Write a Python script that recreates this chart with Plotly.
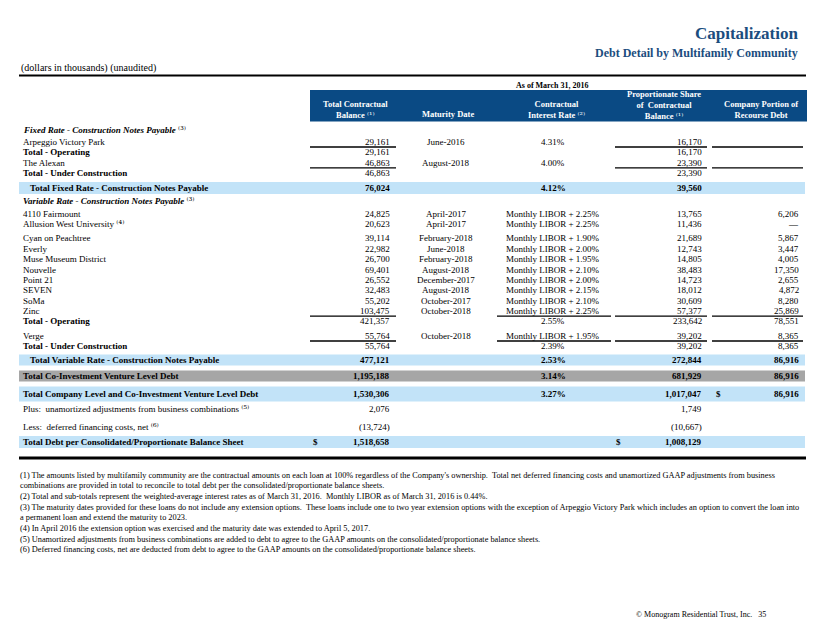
import plotly.graph_objects as go

# ---------------- data ----------------
def sup(n):
    digits = {"1": "\u00b9", "2": "\u00b2", "3": "\u00b3", "4": "\u2074", "5": "\u2075", "6": "\u2076"}
    return ("<span style=\"font-family:'DejaVu Serif';font-weight:normal;font-style:normal\">"
            "\u207d" + digits[n] + "\u207e</span>")


col_headers = [
    "Total Contractual<br>Balance " + sup("1"),
    "Maturity Date",
    "Contractual<br>Interest Rate " + sup("2"),
    "Proportionate Share<br>of  Contractual<br>Balance " + sup("1"),
    "Company Portion of<br>Recourse Debt",
]

fixed_names = ["Arpeggio Victory Park", "The Alexan"]
fixed_balance = [29161, 46863]
fixed_maturity = ["June-2016", "August-2018"]
fixed_rate = [4.31, 4.00]
fixed_share = [16170, 23390]
fixed_total = [76024, 4.12, 39560]

var_op_names = ["4110 Fairmount", "Allusion West University", "Cyan on Peachtree", "Everly",
                "Muse Museum District", "Nouvelle", "Point 21", "SEVEN", "SoMa", "Zinc"]
var_op_notes = ["", "4", "", "", "", "", "", "", "", ""]
var_op_balance = [24825, 20623, 39114, 22982, 26700, 69401, 26552, 32483, 55202, 103475]
var_op_maturity = ["April-2017", "April-2017", "February-2018", "June-2018", "February-2018",
                   "August-2018", "December-2017", "August-2018", "October-2017", "October-2018"]
var_op_spread = [2.25, 2.25, 1.90, 2.00, 1.95, 2.10, 2.00, 2.15, 2.10, 2.25]
var_op_share = [13765, 11436, 21689, 12743, 14805, 38483, 14723, 18012, 30609, 57377]
var_op_recourse = [6206, None, 5867, 3447, 4005, 17350, 2655, 4872, 8280, 25869]
var_op_total = [421357, 2.55, 233642, 78551]

var_uc_names = ["Verge"]
var_uc_balance = [55764]
var_uc_maturity = ["October-2018"]
var_uc_spread = [1.95]
var_uc_share = [39202]
var_uc_recourse = [8365]
var_uc_total = [55764, 2.39, 39202, 8365]

var_total = [477121, 2.53, 272844, 86916]
coinv_total = [1195188, 3.14, 681929, 86916]
company_total = [1530306, 3.27, 1017047, 86916]
adj_plus = [2076, 1749]
adj_less = [-13724, -10667]
debt_total = [1518658, 1008129]

footnotes = [
    "(1) The amounts listed by multifamily community are the contractual amounts on each loan at 100% regardless of the Company's ownership.  Total net deferred financing costs and unamortized GAAP adjustments from business",
    "combinations are provided in total to reconcile to total debt per the consolidated/proportionate balance sheets.",
    "(2) Total and sub-totals represent the weighted-average interest rates as of March 31, 2016.  Monthly LIBOR as of March 31, 2016 is 0.44%.",
    "(3) The maturity dates provided for these loans do not include any extension options.  These loans include one to two year extension options with the exception of Arpeggio Victory Park which includes an option to convert the loan into",
    "a permanent loan and extend the maturity to 2023.",
    "(4) In April 2016 the extension option was exercised and the maturity date was extended to April 5, 2017.",
    "(5) Unamortized adjustments from business combinations are added to debt to agree to the GAAP amounts on the consolidated/proportionate balance sheets.",
    "(6) Deferred financing costs, net are deducted from debt to agree to the GAAP amounts on the consolidated/proportionate balance sheets.",
]

# ---------------- layout constants ----------------
W, H = 822, 635
FONT = "Liberation Serif"
TITLE_BLUE = "#1B4D7E"
HEADER_BLUE = "#0A4A84"
BAND_BLUE = "#C2E3F8"
BAND_GRAY = "#A6A6A6"

X_LABEL, X_INDENT = 21, 28
X_BAL, X_MAT, X_RATE, X_SHARE, X_REC = 392, 446, 553, 704, 801
UL = {"bal": (310, 396), "rate": (497, 611), "share": (615, 707), "rec": (712, 803)}
BAND_X = (19, 805)
BODY = 9

annotations = []
shapes = []


def fmt(v):
    if v is None:
        return "\u2014"
    if v < 0:
        return f"({-v:,})"
    return f"{v:,}"


def txt(x, y, s, anchor="left", size=BODY, color="black", bold=False, italic=False):
    if bold:
        s = f"<b>{s}</b>"
    if italic:
        s = f"<i>{s}</i>"
    annotations.append(dict(x=x, y=y, xref="x", yref="y", text=s, showarrow=False,
                            xanchor=anchor, yanchor="middle",
                            font=dict(family=FONT, size=size, color=color)))


def line(x0, x1, y, width=1.3):
    shapes.append(dict(type="line", xref="x", yref="y", x0=x0, x1=x1, y0=y, y1=y,
                       line=dict(color="black", width=width)))


def band(y, color, half=6):
    shapes.append(dict(type="rect", xref="x", yref="y", x0=BAND_X[0], x1=BAND_X[1],
                       y0=y - half, y1=y + half, fillcolor=color, line=dict(width=0), layer="below"))


def row(y, label, bal=None, mat=None, rate=None, share=None, rec=None, bold=False,
        bold_values=None, label_x=X_LABEL, underline=(), rec_blank=False):
    bv = bold if bold_values is None else bold_values
    txt(label_x, y, label, bold=bold)
    if bal is not None:
        txt(X_BAL, y, fmt(bal), "right", bold=bv)
    if mat is not None:
        txt(X_MAT, y, mat, "center", bold=bv)
    if rate is not None:
        txt(X_RATE, y, rate, "center", bold=bv)
    if share is not None:
        txt(X_SHARE, y, fmt(share), "right", bold=bv)
    if rec is not None or rec_blank:
        txt(X_REC, y, fmt(rec), "right", bold=bv)
    for key in underline:
        line(UL[key][0], UL[key][1], y + 5)


# ---------------- titles / header ----------------
txt(800, 33, "Capitalization", "right", size=17, color=TITLE_BLUE, bold=True)
txt(800, 53, "Debt Detail by Multifamily Community", "right", size=12, color=TITLE_BLUE, bold=True)
txt(19, 68, "(dollars in thousands) (unaudited)", size=10)
line(19, 806, 75.5, width=2.2)
txt(552, 85.5, "As of March 31, 2016", "center", size=8, bold=True)
shapes.append(dict(type="rect", xref="x", yref="y", x0=310, x1=807, y0=90, y1=121.5,
                   fillcolor=HEADER_BLUE, line=dict(width=0), layer="below"))
hdr_x = [355, 448, 556, 664, 761]
hdr_y = [109.5, 114, 109.5, 105, 109.5]
for hx, hy, ht in zip(hdr_x, hdr_y, col_headers):
    annotations.append(dict(x=hx, y=hy, xref="x", yref="y", text=f"<b>{ht}</b>", showarrow=False,
                            xanchor="center", yanchor="middle", align="center",
                            font=dict(family=FONT, size=8.5, color="white")))

# ---------------- body ----------------
STEP = 10.4
y = 130
txt(X_LABEL, y, "<b><i>Fixed Rate - Construction Notes Payable</i></b> " + sup("3"))
y = 142
for i, name in enumerate(fixed_names):
    row(y, name, bal=fixed_balance[i], mat=fixed_maturity[i], rate=f"{fixed_rate[i]:.2f}%",
        share=fixed_share[i], underline=("bal", "share", "rec"))
    y += STEP
    row(y, "Total - Under Construction" if i else "Total - Operating",
        bal=fixed_balance[i], share=fixed_share[i], bold=True, bold_values=False)
    y += STEP

y = 188
band(y, BAND_BLUE)
row(y, "Total Fixed Rate - Construction Notes Payable", bal=fixed_total[0],
    rate=f"{fixed_total[1]:.2f}%", share=fixed_total[2], bold=True, label_x=X_INDENT)

y = 201
txt(X_LABEL, y, "<b><i>Variable Rate - Construction Notes Payable</i></b> " + sup("3"))
y = 214
for i, name in enumerate(var_op_names):
    lab = name + (" " + sup(var_op_notes[i]) if var_op_notes[i] else "")
    last = i == len(var_op_names) - 1
    row(y, lab, bal=var_op_balance[i], mat=var_op_maturity[i],
        rate=f"Monthly LIBOR + {var_op_spread[i]:.2f}%", share=var_op_share[i],
        rec=var_op_recourse[i], rec_blank=True,
        underline=("bal", "rate", "share", "rec") if last else ())
    y += STEP + (3.5 if i == 1 else 0)
y = 321
row(y, "Total - Operating", bal=var_op_total[0], rate=f"{var_op_total[1]:.2f}%",
    share=var_op_total[2], rec=var_op_total[3], bold=True, bold_values=False)

y = 336
for i, name in enumerate(var_uc_names):
    row(y, name, bal=var_uc_balance[i], mat=var_uc_maturity[i],
        rate=f"Monthly LIBOR + {var_uc_spread[i]:.2f}%", share=var_uc_share[i],
        rec=var_uc_recourse[i], underline=("bal", "rate", "share", "rec"))
    y += STEP
row(346, "Total - Under Construction", bal=var_uc_total[0], rate=f"{var_uc_total[1]:.2f}%",
    share=var_uc_total[2], rec=var_uc_total[3], bold=True, bold_values=False)

y = 360
band(y, BAND_BLUE, 5.5)
row(y, "Total Variable Rate - Construction Notes Payable", bal=var_total[0],
    rate=f"{var_total[1]:.2f}%", share=var_total[2], rec=var_total[3], bold=True, label_x=X_INDENT)

y = 376
band(y, BAND_GRAY, 5.5)
row(y, "Total Co-Investment Venture Level Debt", bal=coinv_total[0],
    rate=f"{coinv_total[1]:.2f}%", share=coinv_total[2], rec=coinv_total[3], bold=True)

y = 394
band(y, BAND_BLUE, 7.5)
row(y, "Total Company Level and Co-Investment Venture Level Debt", bal=company_total[0],
    rate=f"{company_total[1]:.2f}%", share=company_total[2], rec=company_total[3], bold=True)
txt(714, y, "$", "left", bold=True)

y = 409
row(y, "Plus:  unamortized adjustments from business combinations " + sup("5"),
    bal=adj_plus[0], share=adj_plus[1])
y = 427
row(y, "Less:  deferred financing costs, net " + sup("6"), bal=adj_less[0], share=adj_less[1])

y = 442
band(y, BAND_BLUE, 6)
row(y, "Total Debt per Consolidated/Proportionate Balance Sheet", bal=debt_total[0],
    share=debt_total[1], bold=True)
txt(311, y, "$", "left", bold=True)
txt(614, y, "$", "left", bold=True)

line(19, 806, 458, width=3)

# ---------------- footnotes ----------------
fy = [475, 485.5, 496, 507, 517.5, 528, 539, 549.5]
for yy, note in zip(fy, footnotes):
    txt(18, yy, note, size=8.3)

txt(768, 614, "\u00a9 Monogram Residential Trust, Inc.   35", "right", size=8)

fig = go.Figure(go.Scatter(x=[0, W], y=[0, H], mode="markers", marker=dict(opacity=0),
                           hoverinfo="skip", showlegend=False))
fig.update_layout(
    width=W, height=H, margin=dict(l=0, r=0, t=0, b=0),
    paper_bgcolor="white", plot_bgcolor="white",
    xaxis=dict(range=[0, W], visible=False, fixedrange=True),
    yaxis=dict(range=[H, 0], visible=False, fixedrange=True),
    annotations=annotations, shapes=shapes, showlegend=False,
)
fig.write_html("out.html", config={"displayModeBar": False},
               post_script="document.body.style.margin='0px';")
